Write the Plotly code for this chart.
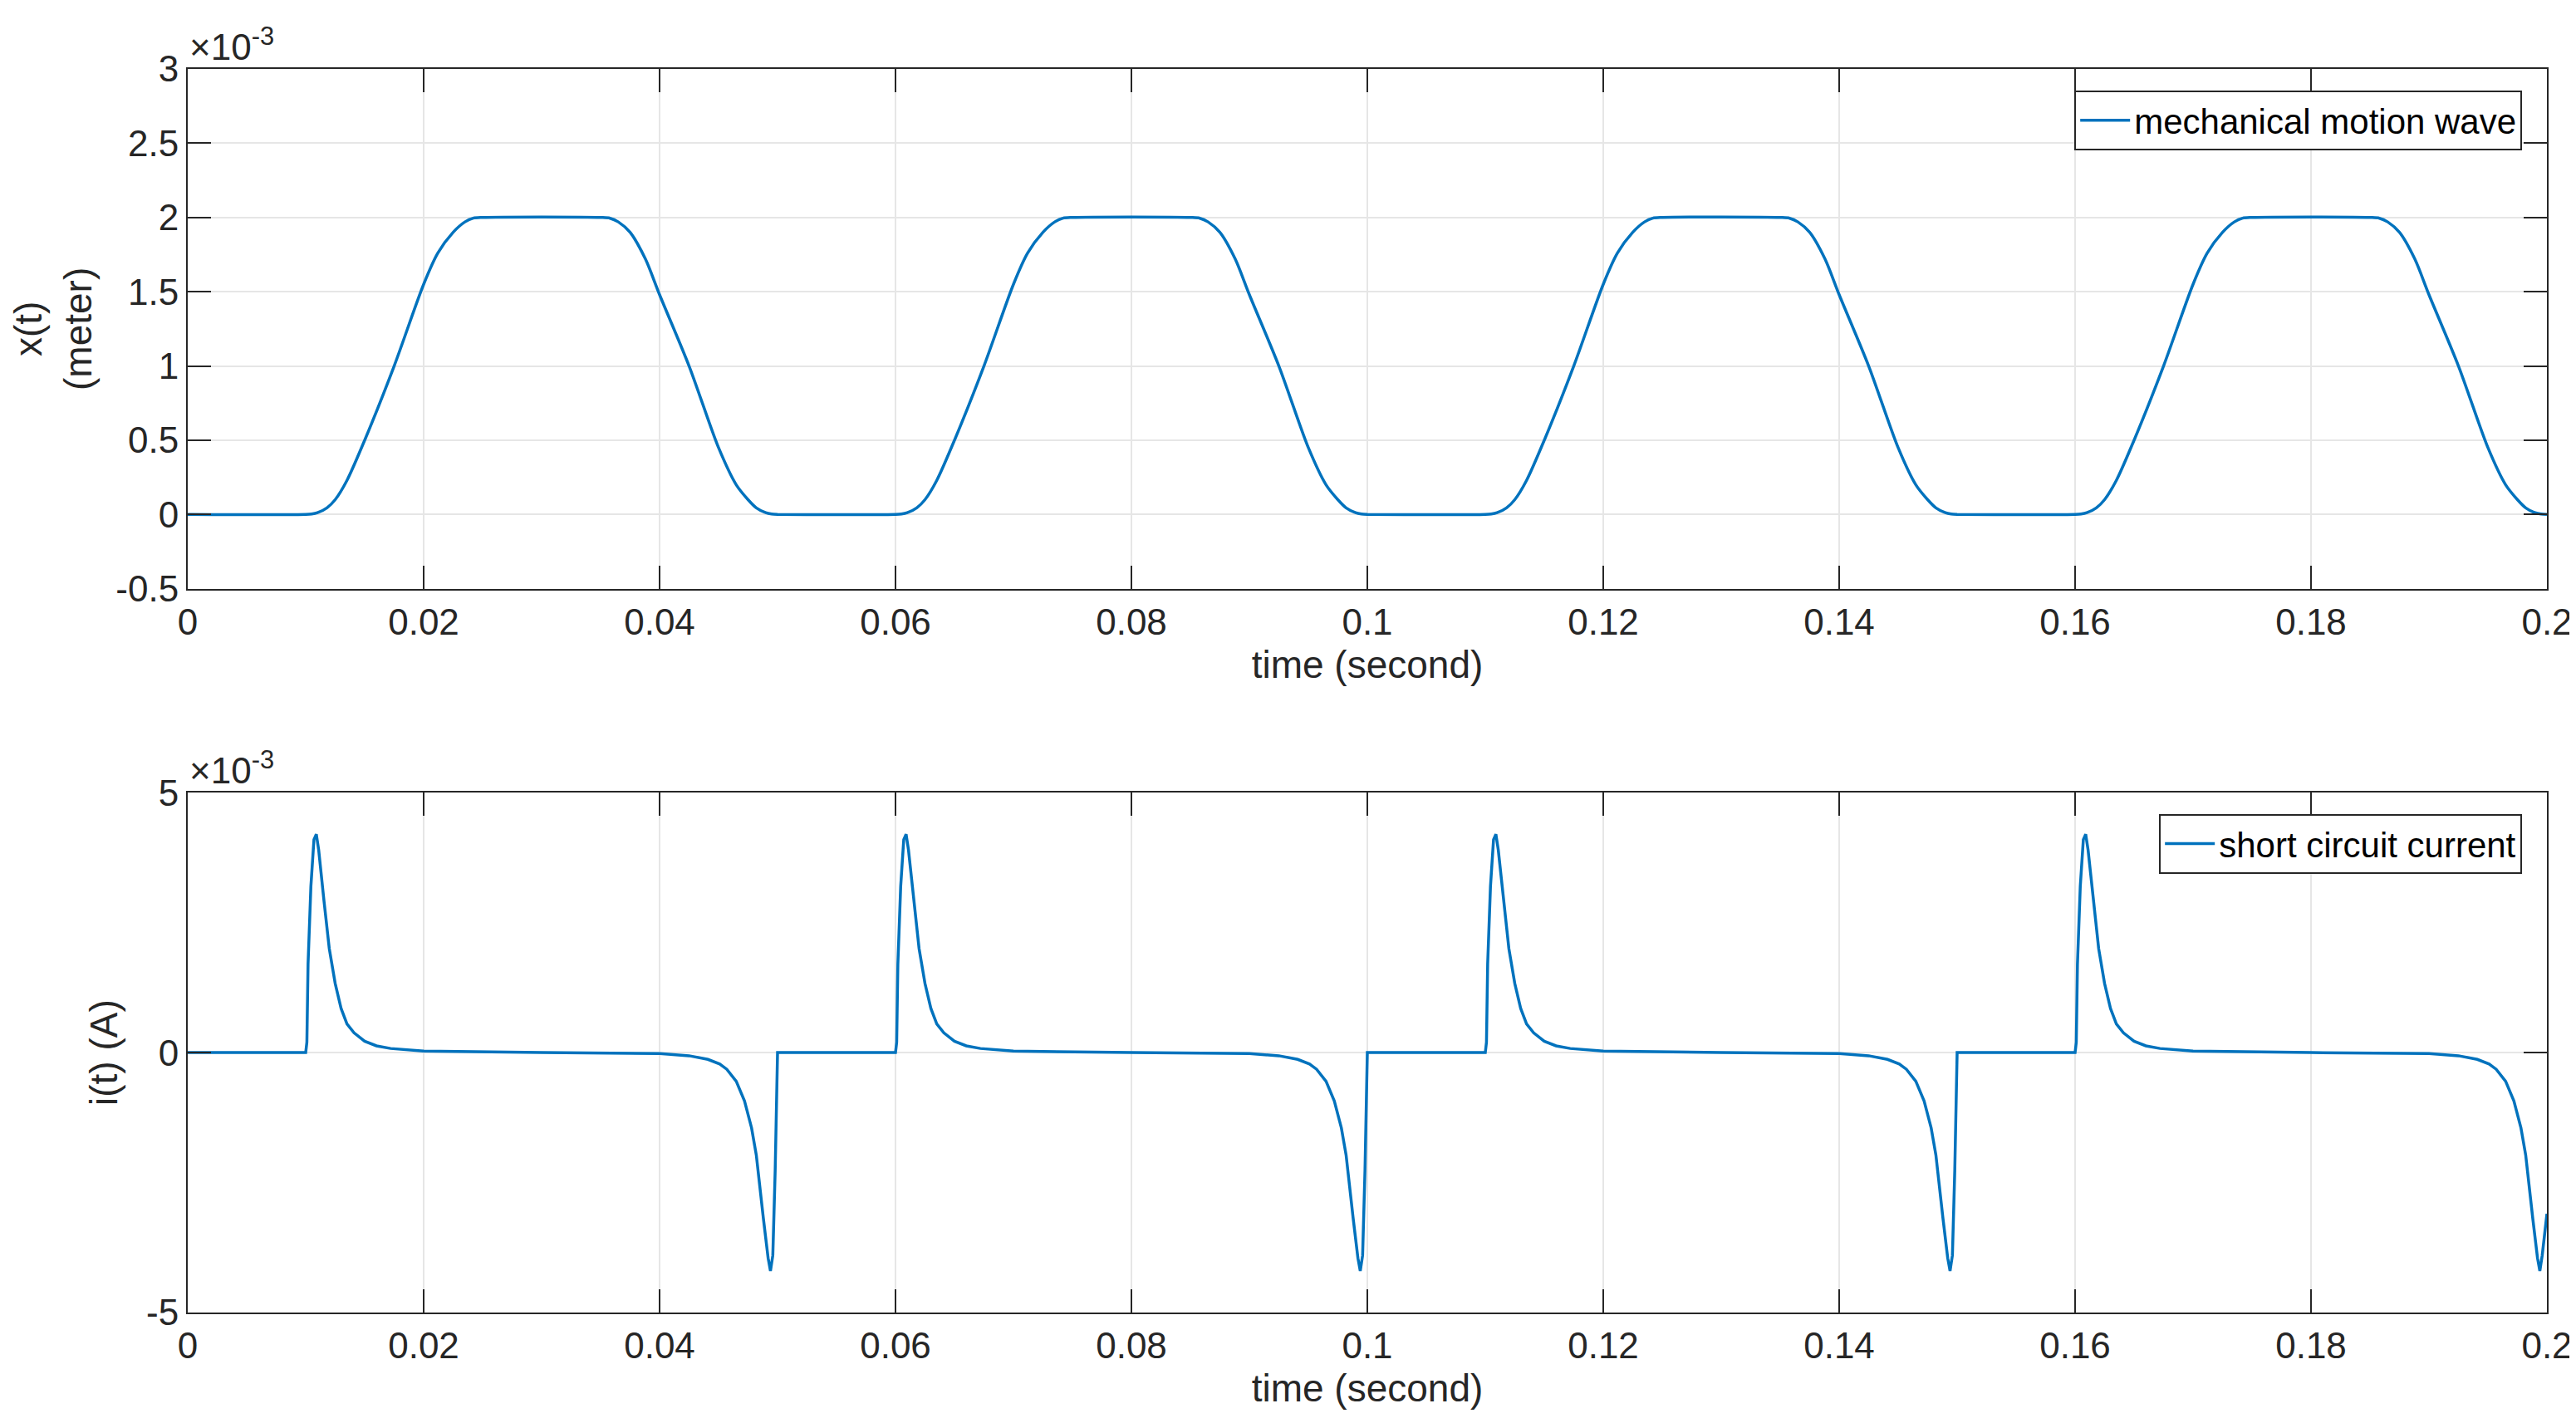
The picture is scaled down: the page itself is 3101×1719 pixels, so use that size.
import plotly.graph_objects as go
from plotly.subplots import make_subplots

PERIOD = 0.05
N_CYCLES = 4
# one cycle of mechanical motion (t offset in s, x in 1e-3 m)
x_cycle_t = [0.0, 0.0100, 0.0105, 0.0110, 0.0118, 0.0125, 0.0135, 0.0150, 0.0175, 0.0200, 0.0212,
             0.0225, 0.0235, 0.0242, 0.0250,
             0.0350, 0.0358, 0.0365, 0.0375, 0.0388, 0.0400, 0.0425, 0.0450, 0.0465, 0.0475,
             0.0482, 0.0490, 0.0495, 0.0500]
x_cycle_v = [0.0, 0.0, 0.003, 0.012, 0.045, 0.10, 0.23, 0.50, 1.00, 1.55, 1.76,
             1.90, 1.97, 1.995, 2.0,
             2.0, 1.995, 1.97, 1.90, 1.72, 1.48, 1.00, 0.45, 0.20, 0.10,
             0.045, 0.012, 0.003, 0.0]
# one cycle of short-circuit current (t offset in s, i in 1e-3 A)
i_cycle_t = [0.0, 0.0100, 0.0101, 0.0102, 0.01044, 0.0107, 0.0109, 0.0111, 0.01155, 0.0120,
             0.0125, 0.0130, 0.0135, 0.0141, 0.0150, 0.0160, 0.0172, 0.0200, 0.0300, 0.0400,
             0.0425, 0.0441, 0.0451, 0.0457, 0.0465, 0.0472, 0.0478, 0.0482, 0.0488, 0.0492, 0.0494,
             0.0496, 0.0498, 0.0499, 0.0500]
i_cycle_v = [0.0, 0.0, 0.2, 1.7, 3.2, 4.1, 4.2, 3.9, 2.92, 2.0,
             1.33, 0.85, 0.55, 0.38, 0.22, 0.13, 0.08, 0.03, 0.0, -0.02,
             -0.06, -0.13, -0.22, -0.32, -0.55, -0.93, -1.45, -1.97, -3.19, -3.95, -4.2,
             -3.9, -2.27, -1.0, 0.0]
i_end_t, i_end_v = 0.2, -3.1

x_tick_vals = [0, 0.02, 0.04, 0.06, 0.08, 0.1, 0.12, 0.14, 0.16, 0.18, 0.2]
x_tick_text = ["0", "0.02", "0.04", "0.06", "0.08", "0.1", "0.12", "0.14", "0.16", "0.18", "0.2"]
y1_tick_vals = [-0.5, 0, 0.5, 1, 1.5, 2, 2.5, 3]
y1_tick_text = ["-0.5", "0", "0.5", "1", "1.5", "2", "2.5", "3"]
y2_tick_vals = [-5, 0, 5]
y2_tick_text = ["-5", "0", "5"]

xt, xv, it, iv = [], [], [], []
for k in range(N_CYCLES):
    for t, v in zip(x_cycle_t, x_cycle_v):
        xt.append(k * PERIOD + t); xv.append(v)
    for t, v in zip(i_cycle_t, i_cycle_v):
        if k == N_CYCLES - 1 and t > 0.0496:
            continue
        it.append(k * PERIOD + t); iv.append(v)
it.append(i_end_t); iv.append(i_end_v)

BLUE = "#0072BD"
FONT = "Liberation Sans, Arial, sans-serif"
fig = make_subplots(rows=2, cols=1, vertical_spacing=0.164)
fig.add_trace(go.Scatter(x=xt, y=xv, mode="lines", name="mechanical motion wave", showlegend=True,
                         line=dict(color=BLUE, width=3.5, shape="spline", smoothing=0.8),
                         legend="legend"), row=1, col=1)
fig.add_trace(go.Scatter(x=it, y=iv, mode="lines", name="short circuit current", showlegend=True,
                         line=dict(color=BLUE, width=3.5), legend="legend2"), row=2, col=1)

axcommon = dict(showline=True, linecolor="#262626", linewidth=2, mirror="ticks", ticks="inside",
                ticklen=28, tickwidth=2, tickcolor="#262626", showgrid=True, gridcolor="#E6E6E6",
                gridwidth=2, zeroline=False, tickfont=dict(size=44, color="#262626", family=FONT))
TF = dict(size=46, color="#262626", family=FONT)
for r in (1, 2):
    fig.update_xaxes(axcommon, row=r, col=1, range=[0, 0.2], tickvals=x_tick_vals,
                     ticktext=x_tick_text, title=dict(text="time (second)", font=TF, standoff=12))
fig.update_yaxes(axcommon, row=1, col=1, range=[-0.5, 3], tickvals=y1_tick_vals, ticktext=y1_tick_text,
                 title=dict(text="x(t)<br>(meter)", font=TF, standoff=20))
fig.update_yaxes(axcommon, row=2, col=1, range=[-5, 5], tickvals=y2_tick_vals, ticktext=y2_tick_text,
                 title=dict(text="i(t) (A)", font=TF, standoff=20))
LEGF = dict(size=42, color="black", family=FONT)
fig.update_layout(
    width=3101, height=1719, paper_bgcolor="white", plot_bgcolor="white",
    margin=dict(l=218, r=38, t=75, b=147),
    font=dict(family=FONT, color="#262626"),
    showlegend=True,
    legend=dict(x=0.9895, y=0.9826, xanchor="right", yanchor="top", bgcolor="white",
                bordercolor="#262626", borderwidth=2, font=LEGF, itemwidth=60),
    legend2=dict(x=0.9895, y=0.401, xanchor="right", yanchor="top", bgcolor="white",
                 bordercolor="#262626", borderwidth=2, font=LEGF, itemwidth=60),
    annotations=[
        dict(text="×10<sup>-3</sup>", xref="paper", yref="paper", x=0, y=1.0, xanchor="left",
             yanchor="bottom", showarrow=False, font=dict(size=44, color="#262626", family=FONT)),
        dict(text="×10<sup>-3</sup>", xref="paper", yref="paper", x=0, y=0.418, xanchor="left",
             yanchor="bottom", showarrow=False, font=dict(size=44, color="#262626", family=FONT)),
    ],
)
fig.write_html("out.html")
